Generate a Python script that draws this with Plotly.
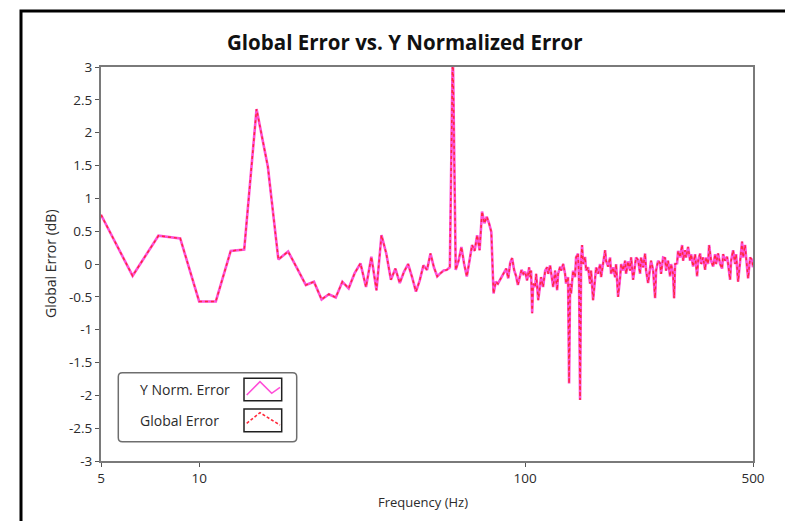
import plotly.graph_objects as go

# ---------------- data ----------------
freq_hz = [
    5, 6.25, 7.5, 8.75, 10, 11.25, 12.5, 13.75, 15, 16.25, 17.5, 18.75, 20,
    21.25, 22.5, 23.75, 25, 26.25, 27.5, 28.75, 30, 31.25, 32.5, 33.75, 35,
    36.25, 37.5, 38.75, 40, 41.25, 42.5, 43.75, 45, 46.25, 47.5, 48.75, 50,
    51.25, 52.5, 53.75, 55, 56.25, 57.5, 58.75, 60, 61.25, 62.5, 63.75, 65,
    66.25, 67.5, 68.75, 70, 71.25, 72.5, 73.75, 75, 76.25, 77.5, 78.75, 80,
    81.25, 82.5, 83.75, 85, 86.25, 87.5, 88.75, 90, 91.25, 92.5, 93.75, 95,
    96.25, 97.5, 98.75,
    100, 101.4, 102.9, 103.6, 104.3, 105.1, 105.8,
    107.3, 108.1, 109.7, 111.2, 111.9, 113.5,
    115.2, 116.8, 117.7, 119.3, 121.0, 121.9,
    123.6, 125.4, 126.2, 128.1, 129.0, 130.9,
    132.6, 133.5, 135.4, 136.4, 137.4, 138.3, 140.3,
    142.3, 143.3, 145.3, 146.4, 147.4, 148.5, 149.5, 150.6,
    152.7, 153.8, 156.0, 158.2, 159.3, 161.6,
    163.9, 165.1, 167.4, 169.8, 171.0, 173.4,
    175.9, 177.1, 179.7, 182.2, 183.5, 186.1,
    188.8, 190.1, 192.8, 195.6, 197.0, 199.8,
    202.6, 204.0, 206.9, 209.9, 211.4, 214.4,
    217.4, 218.9, 222.1, 225.2, 226.8, 230.1,
    233.3, 235.0, 238.3, 241.7, 243.4, 246.9,
    250.4, 252.2, 255.8, 259.4, 261.2, 265.0,
    268.7, 270.6, 274.4, 278.4, 280.3, 284.3, 286.4,
    288.4, 292.5, 294.6, 298.8, 303.1, 305.2,
    309.5, 311.7, 316.1, 320.6, 322.9, 327.5,
    332.2, 336.9, 339.3, 344.2, 346.6, 351.5,
    356.5, 359.0, 364.1, 366.7, 371.9, 377.3,
    382.6, 385.3, 390.8, 396.4, 402.0, 404.9,
    410.6, 416.4, 419.4, 425.4, 428.4, 434.5,
    440.6, 443.7, 450.0, 456.5, 462.9, 466.2,
    472.9, 476.3, 483.0, 489.9, 496.9, 500,
]

y_norm_error_db = [
    0.75, -0.18, 0.43, 0.39, -0.57, -0.57, 0.20, 0.22, 2.36, 1.48, 0.07, 0.19, -0.07,
    -0.32, -0.27, -0.54, -0.46, -0.51, -0.27, -0.37, -0.14, 0.01, -0.35, 0.11, -0.40,
    0.44, 0.16, -0.24, -0.07, -0.29, -0.12, 0.00, -0.20, -0.42, -0.25, -0.02, -0.09,
    0.16, -0.05, -0.19, -0.14, -0.10, -0.09, -0.05, 3.30, -0.09, 0.05, 0.26, 0.00,
    -0.19, 0.05, 0.29, 0.20, 0.44, 0.21, 0.80, 0.62, 0.72, 0.62, 0.49, -0.45,
    -0.27, -0.30, -0.24, -0.19, -0.12, -0.07, -0.22, 0.02, 0.09, -0.09, -0.18, -0.32,
    -0.20, -0.09, -0.15,
    -0.12, -0.25, -0.05, -0.20, -0.10, -0.75, -0.30,
    -0.35, -0.15, -0.55, -0.30, -0.20, -0.35,
    -0.10, -0.05, -0.15, -0.02, -0.20, -0.35,
    -0.10, -0.40, -0.15, -0.04, -0.10, 0.00,
    -0.15, -0.30, -0.20, -1.82, -0.30, -0.45, -0.10,
    -0.20, 0.10, 0.16, -0.30, -2.07, 0.05, 0.29, 0.00,
    0.11, -0.10, -0.05, -0.30, -0.10, -0.55,
    -0.25, -0.05, -0.15, 0.00, -0.20, 0.05,
    0.21, 0.05, -0.04, 0.10, -0.15, -0.05,
    -0.20, 0.00, -0.50, -0.20, 0.00, -0.10,
    0.05, -0.15, 0.04, -0.10, 0.10, -0.24,
    -0.05, 0.10, 0.06, -0.15, 0.10, -0.05,
    0.16, -0.10, -0.29, -0.05, 0.05, -0.09,
    -0.52, -0.10, 0.05, 0.01, -0.15, 0.10,
    0.09, -0.10, 0.05, -0.19, 0.00, -0.15, -0.52,
    0.00, 0.01, 0.20, 0.10, 0.29, 0.05,
    0.21, 0.10, 0.26, 0.05, 0.15, -0.04,
    0.15, -0.19, 0.05, 0.16, 0.00, 0.10,
    -0.09, 0.10, 0.00, 0.29, 0.05, -0.04,
    0.15, 0.00, 0.16, 0.00, -0.07, 0.15,
    0.05, 0.11, 0.00, -0.24, 0.05, 0.21,
    0.00, 0.15, -0.27, 0.10, 0.34, 0.10,
    0.29, 0.10, -0.22, 0.10, 0.06, -0.05,
]

global_error_db = list(y_norm_error_db)

x_tick_vals = [5, 10, 100, 500]
x_tick_text = ["5", "10", "100", "500"]
y_tick_vals = [3, 2.5, 2, 1.5, 1, 0.5, 0, -0.5, -1, -1.5, -2, -2.5, -3]
y_tick_text = ["3", "2.5", "2", "1.5", "1", "0.5", "0", "-0.5", "-1", "-1.5", "-2", "-2.5", "-3"]

series_names = ["Y Norm. Error", "Global Error"]
series_colors = ["#ff4fd8", "#ff2a3c"]

# ---------------- layout helpers ----------------
W, H = 785, 521
ML, MR, MT, MB = 101, 32, 67, 60
PW, PH = W - ML - MR, H - MT - MB


def px(xp):
    return (xp - ML) / PW


def py(yp):
    return (H - MB - yp) / PH


FONT = "Open Sans, Liberation Sans, Arial, sans-serif"
TXT = "#2b2b2b"

fig = go.Figure()
fig.add_trace(go.Scatter(
    x=freq_hz, y=y_norm_error_db, mode="lines", name=series_names[0],
    line=dict(color=series_colors[0], width=2.6), showlegend=False,
))
fig.add_trace(go.Scatter(
    x=freq_hz, y=global_error_db, mode="lines", name=series_names[1],
    line=dict(color=series_colors[1], width=1.5, dash="3px,3px"), showlegend=False,
))

axis_common = dict(
    showgrid=False, zeroline=False, showline=True, linecolor="#7a7a7a",
    linewidth=2, mirror=True, ticks="outside", ticklen=4, tickwidth=1,
    tickcolor="#555555", tickfont=dict(family=FONT, size=13.5, color=TXT),
)

fig.update_layout(
    width=W, height=H,
    margin=dict(l=ML, r=MR, t=MT, b=MB),
    paper_bgcolor="white", plot_bgcolor="white",
    xaxis=dict(type="log", range=[0.69897, 2.69897], tickmode="array",
               tickvals=x_tick_vals, ticktext=x_tick_text, **axis_common),
    yaxis=dict(range=[-3, 3], tickmode="array", tickvals=y_tick_vals,
               ticktext=y_tick_text, **axis_common),
)

shapes = []
# outer black frame (cropped at right & bottom)
shapes.append(dict(type="rect", xref="paper", yref="paper",
                   x0=px(21), x1=px(820), y0=py(11), y1=py(560),
                   line=dict(color="black", width=3), layer="below"))
# legend box (rounded)
lx0, lx1, ly0, ly1, r = 118.3, 296.7, 372.7, 441.7, 4
path = (f"M {px(lx0 + r)},{py(ly0)} L {px(lx1 - r)},{py(ly0)} "
        f"Q {px(lx1)},{py(ly0)} {px(lx1)},{py(ly0 + r)} "
        f"L {px(lx1)},{py(ly1 - r)} Q {px(lx1)},{py(ly1)} {px(lx1 - r)},{py(ly1)} "
        f"L {px(lx0 + r)},{py(ly1)} Q {px(lx0)},{py(ly1)} {px(lx0)},{py(ly1 - r)} "
        f"L {px(lx0)},{py(ly0 + r)} Q {px(lx0)},{py(ly0)} {px(lx0 + r)},{py(ly0)} Z")
shapes.append(dict(type="path", xref="paper", yref="paper", path=path,
                   line=dict(color="#6e6e6e", width=1.5), fillcolor="white"))
# legend sample boxes
for (by0, by1) in [(378.3, 400.7), (409.0, 431.7)]:
    shapes.append(dict(type="rect", xref="paper", yref="paper",
                       x0=px(244), x1=px(281.7), y0=py(by1), y1=py(by0),
                       line=dict(color="#202020", width=1.5), fillcolor="white"))
# legend sample lines
s1 = [(246.7, 395), (260, 381.7), (271.7, 393.3), (280, 387.3)]
s2 = [(246.7, 423.3), (260, 412.7), (271.7, 420), (280, 425)]
for pts, col, dash in [(s1, series_colors[0], "solid"), (s2, series_colors[1], "3px,2px")]:
    p = "M " + " L ".join(f"{px(a)},{py(b)}" for a, b in pts)
    shapes.append(dict(type="path", xref="paper", yref="paper", path=p,
                       line=dict(color=col, width=1.6, dash=dash)))
fig.update_layout(shapes=shapes)

ann = []
ann.append(dict(text="<b>Global Error vs. Y Normalized Error</b>", x=px(405), y=py(42),
                xref="paper", yref="paper", showarrow=False, xanchor="center",
                yanchor="middle", font=dict(family=FONT, size=20.5, color="#111111")))
ann.append(dict(text="Frequency (Hz)", x=px(423), y=py(502), xref="paper", yref="paper",
                showarrow=False, xanchor="center", yanchor="middle",
                font=dict(family=FONT, size=13, color=TXT)))
ann.append(dict(text="Global Error (dB)", x=px(50), y=py(263), xref="paper", yref="paper",
                showarrow=False, xanchor="center", yanchor="middle", textangle=-90,
                font=dict(family=FONT, size=14, color=TXT)))
ann.append(dict(text=series_names[0], x=px(137.5), y=py(389), xref="paper", yref="paper",
                showarrow=False, xanchor="left", yanchor="middle",
                font=dict(family=FONT, size=14, color=TXT)))
ann.append(dict(text=series_names[1], x=px(137.5), y=py(420.5), xref="paper", yref="paper",
                showarrow=False, xanchor="left", yanchor="middle",
                font=dict(family=FONT, size=14, color=TXT)))
fig.update_layout(annotations=ann)

fig.write_html("out.html")
